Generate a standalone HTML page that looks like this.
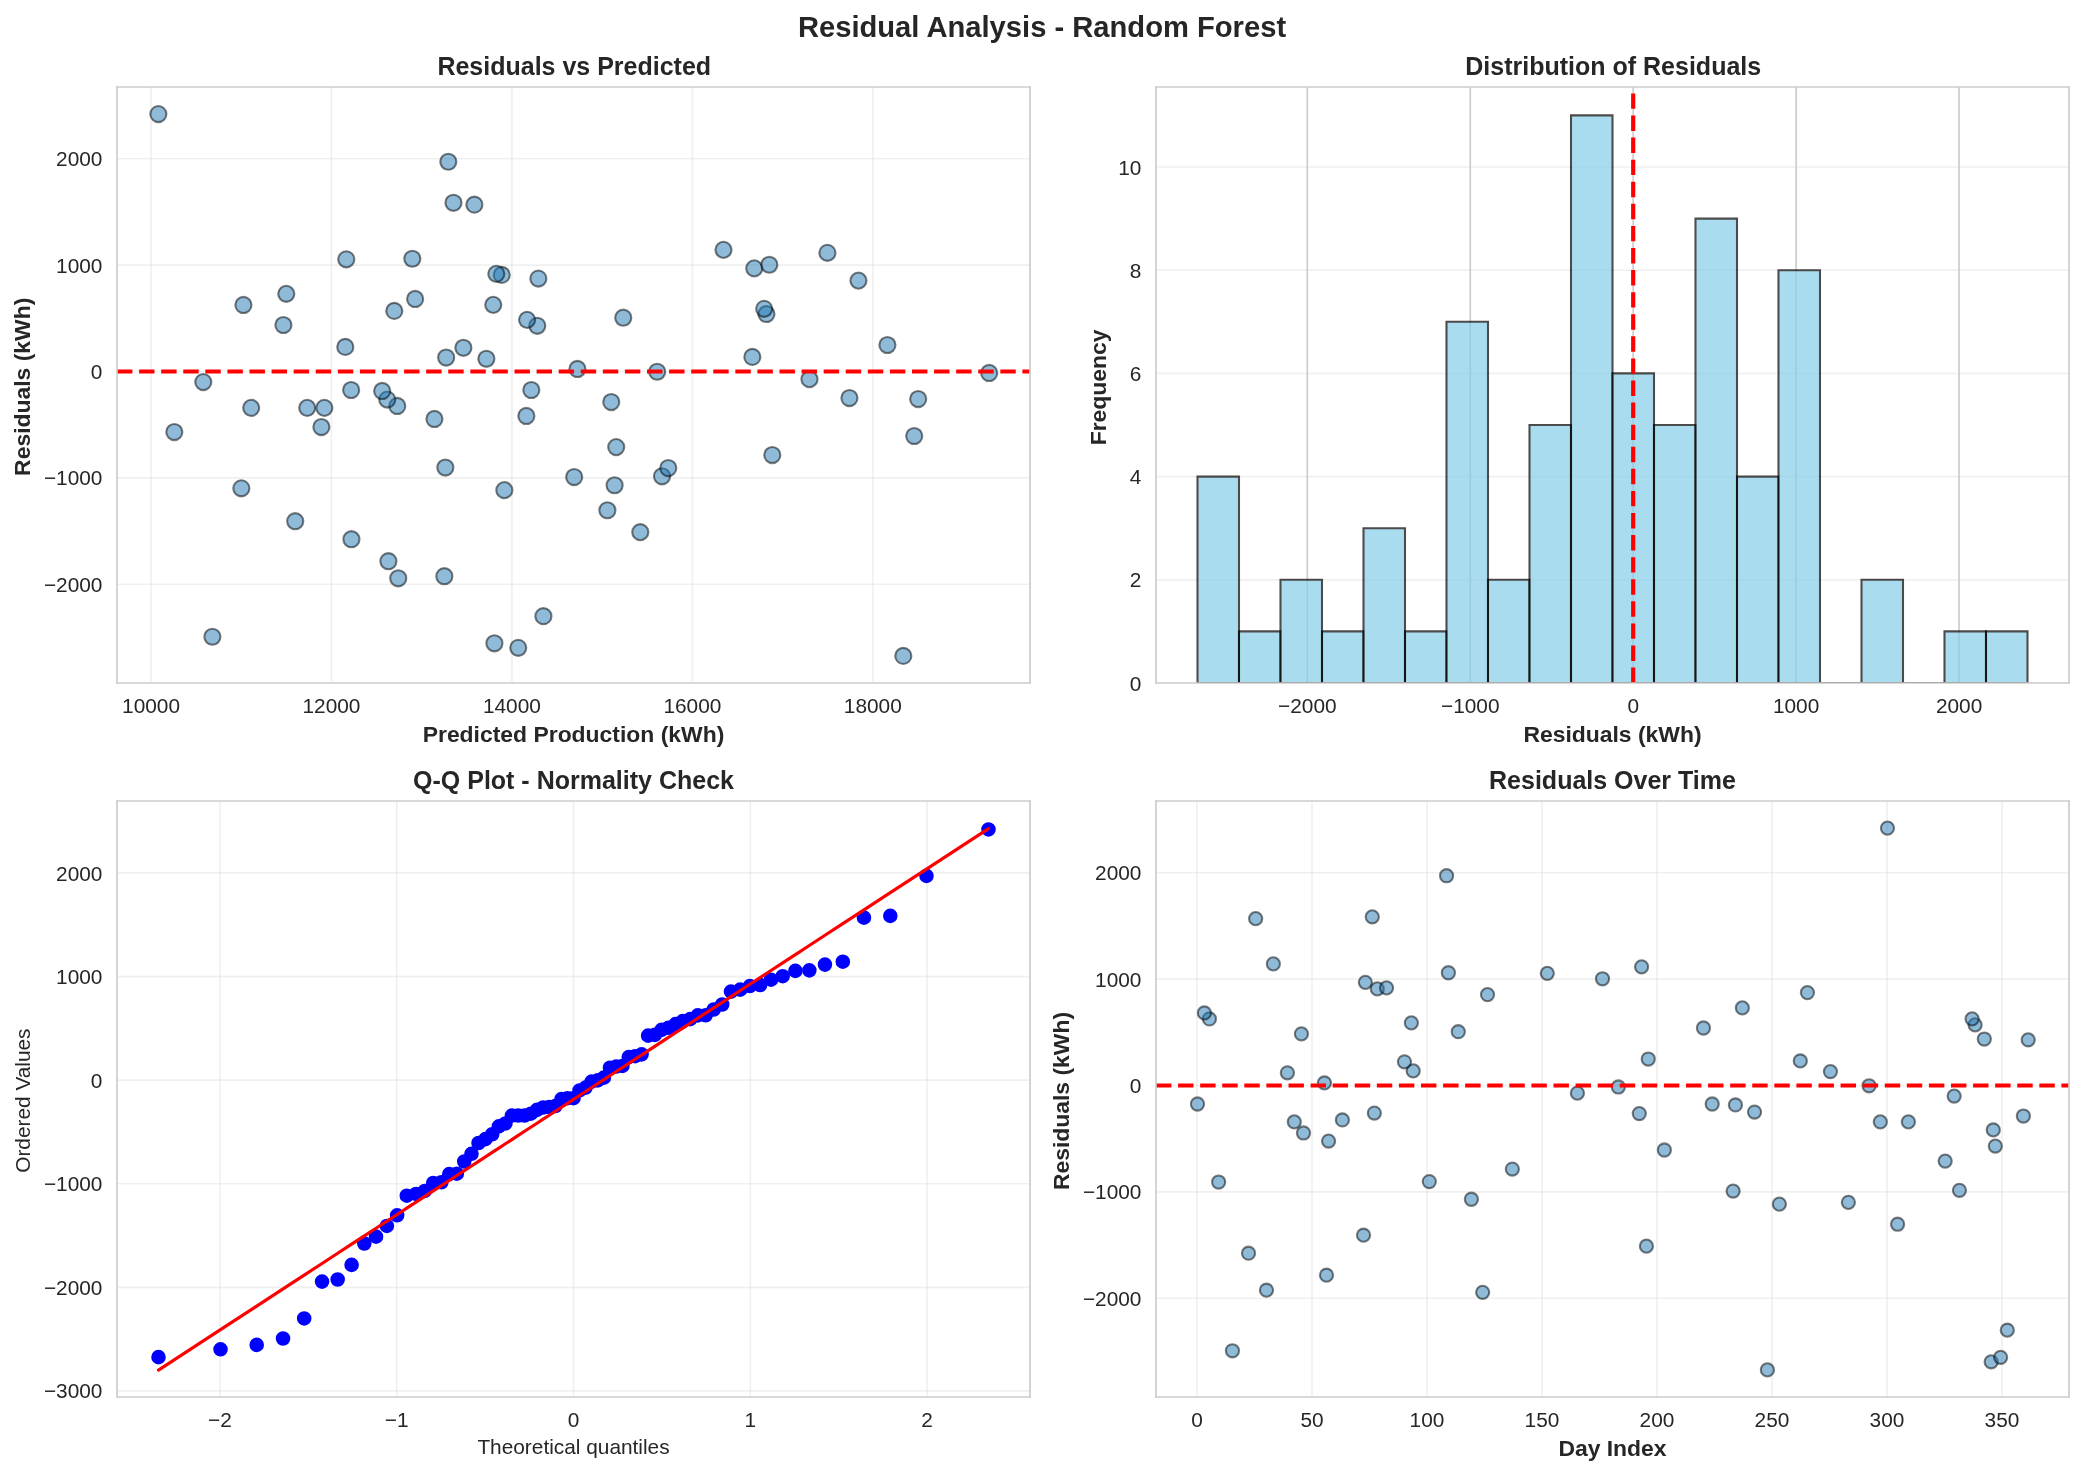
<!DOCTYPE html>
<html><head><meta charset="utf-8"><title>Residual Analysis - Random Forest</title>
<style>html,body{margin:0;padding:0;background:#fff;overflow:hidden;width:2084px;height:1474px}svg{display:block;will-change:transform}text{font-family:"Liberation Sans",sans-serif}</style>
</head><body>
<svg width="2084" height="1474" viewBox="0 0 1000.32 707.52" version="1.1">
<defs>
<style type="text/css">*{stroke-linejoin: round; stroke-linecap: butt}</style>
</defs>
<g id="figure_1">
<g id="patch_1">
<path d="M 0 707.52
L 1000.32 707.52
L 1000.32 0
L 0 0
z
" style="fill: #ffffff"/>
</g>
<g id="axes_1">
<g id="patch_2">
<path d="M 56.16 327.84
L 494.4 327.84
L 494.4 41.76
L 56.16 41.76
z
" style="fill: #ffffff"/>
</g>
<g id="matplotlib.axis_1">
<g id="xtick_1">
<g id="line2d_1">
<path d="M 72.503384 327.84
L 72.503384 41.76
" clip-path="url(#p3004b6a9ac)" style="fill: none; stroke: #cccccc; stroke-opacity: 0.3; stroke-width: 0.8; stroke-linecap: round"/>
</g>
<g id="text_1">
<text style="font-size: 10px; font-family: 'Liberation Sans', sans-serif; text-anchor: middle; fill: #262626" x="72.503384" y="342.086875" transform="rotate(-0 72.503384 342.086875)">10000</text>
</g>
</g>
<g id="xtick_2">
<g id="line2d_2">
<path d="M 159.113791 327.84
L 159.113791 41.76
" clip-path="url(#p3004b6a9ac)" style="fill: none; stroke: #cccccc; stroke-opacity: 0.3; stroke-width: 0.8; stroke-linecap: round"/>
</g>
<g id="text_2">
<text style="font-size: 10px; font-family: 'Liberation Sans', sans-serif; text-anchor: middle; fill: #262626" x="159.113791" y="342.086875" transform="rotate(-0 159.113791 342.086875)">12000</text>
</g>
</g>
<g id="xtick_3">
<g id="line2d_3">
<path d="M 245.724199 327.84
L 245.724199 41.76
" clip-path="url(#p3004b6a9ac)" style="fill: none; stroke: #cccccc; stroke-opacity: 0.3; stroke-width: 0.8; stroke-linecap: round"/>
</g>
<g id="text_3">
<text style="font-size: 10px; font-family: 'Liberation Sans', sans-serif; text-anchor: middle; fill: #262626" x="245.724199" y="342.086875" transform="rotate(-0 245.724199 342.086875)">14000</text>
</g>
</g>
<g id="xtick_4">
<g id="line2d_4">
<path d="M 332.334606 327.84
L 332.334606 41.76
" clip-path="url(#p3004b6a9ac)" style="fill: none; stroke: #cccccc; stroke-opacity: 0.3; stroke-width: 0.8; stroke-linecap: round"/>
</g>
<g id="text_4">
<text style="font-size: 10px; font-family: 'Liberation Sans', sans-serif; text-anchor: middle; fill: #262626" x="332.334606" y="342.086875" transform="rotate(-0 332.334606 342.086875)">16000</text>
</g>
</g>
<g id="xtick_5">
<g id="line2d_5">
<path d="M 418.945013 327.84
L 418.945013 41.76
" clip-path="url(#p3004b6a9ac)" style="fill: none; stroke: #cccccc; stroke-opacity: 0.3; stroke-width: 0.8; stroke-linecap: round"/>
</g>
<g id="text_5">
<text style="font-size: 10px; font-family: 'Liberation Sans', sans-serif; text-anchor: middle; fill: #262626" x="418.945013" y="342.086875" transform="rotate(-0 418.945013 342.086875)">18000</text>
</g>
</g>
<g id="text_6">
<text style="font-weight: 700; font-size: 11px; font-family: 'Liberation Sans', sans-serif; text-anchor: middle; fill: #262626" x="275.28" y="356.133438" transform="rotate(-0 275.28 356.133438)">Predicted Production (kWh)</text>
</g>
</g>
<g id="matplotlib.axis_2">
<g id="ytick_1">
<g id="line2d_6">
<path d="M 56.16 280.425485
L 494.4 280.425485
" clip-path="url(#p3004b6a9ac)" style="fill: none; stroke: #cccccc; stroke-opacity: 0.3; stroke-width: 0.8; stroke-linecap: round"/>
</g>
<g id="text_7">
<text style="font-size: 10px; font-family: 'Liberation Sans', sans-serif; text-anchor: end; fill: #262626" x="49.16" y="284.048922" transform="rotate(-0 49.16 284.048922)">−2000</text>
</g>
</g>
<g id="ytick_2">
<g id="line2d_7">
<path d="M 56.16 229.370768
L 494.4 229.370768
" clip-path="url(#p3004b6a9ac)" style="fill: none; stroke: #cccccc; stroke-opacity: 0.3; stroke-width: 0.8; stroke-linecap: round"/>
</g>
<g id="text_8">
<text style="font-size: 10px; font-family: 'Liberation Sans', sans-serif; text-anchor: end; fill: #262626" x="49.16" y="232.994205" transform="rotate(-0 49.16 232.994205)">−1000</text>
</g>
</g>
<g id="ytick_3">
<g id="line2d_8">
<path d="M 56.16 178.316051
L 494.4 178.316051
" clip-path="url(#p3004b6a9ac)" style="fill: none; stroke: #cccccc; stroke-opacity: 0.3; stroke-width: 0.8; stroke-linecap: round"/>
</g>
<g id="text_9">
<text style="font-size: 10px; font-family: 'Liberation Sans', sans-serif; text-anchor: end; fill: #262626" x="49.16" y="181.939488" transform="rotate(-0 49.16 181.939488)">0</text>
</g>
</g>
<g id="ytick_4">
<g id="line2d_9">
<path d="M 56.16 127.261334
L 494.4 127.261334
" clip-path="url(#p3004b6a9ac)" style="fill: none; stroke: #cccccc; stroke-opacity: 0.3; stroke-width: 0.8; stroke-linecap: round"/>
</g>
<g id="text_10">
<text style="font-size: 10px; font-family: 'Liberation Sans', sans-serif; text-anchor: end; fill: #262626" x="49.16" y="130.884772" transform="rotate(-0 49.16 130.884772)">1000</text>
</g>
</g>
<g id="ytick_5">
<g id="line2d_10">
<path d="M 56.16 76.206617
L 494.4 76.206617
" clip-path="url(#p3004b6a9ac)" style="fill: none; stroke: #cccccc; stroke-opacity: 0.3; stroke-width: 0.8; stroke-linecap: round"/>
</g>
<g id="text_11">
<text style="font-size: 10px; font-family: 'Liberation Sans', sans-serif; text-anchor: end; fill: #262626" x="49.16" y="79.830055" transform="rotate(-0 49.16 79.830055)">2000</text>
</g>
</g>
<g id="text_12">
<g transform="translate(-0.600 0.864)"><text style="font-weight: 700; font-size: 11px; font-family: 'Liberation Sans', sans-serif; text-anchor: middle; fill: #262626" x="14.793125" y="184.8" transform="rotate(-90 14.793125 184.8)">Residuals (kWh)</text></g>
</g>
</g>
<g id="PathCollection_1">
<defs>
<path id="m60a8fec5a6" d="M 0 3.872983
C 1.027127 3.872983 2.012324 3.464901 2.738613 2.738613
C 3.464901 2.012324 3.872983 1.027127 3.872983 0
C 3.872983 -1.027127 3.464901 -2.012324 2.738613 -2.738613
C 2.012324 -3.464901 1.027127 -3.872983 0 -3.872983
C -1.027127 -3.872983 -2.012324 -3.464901 -2.738613 -2.738613
C -3.464901 -2.012324 -3.872983 -1.027127 -3.872983 0
C -3.872983 1.027127 -3.464901 2.012324 -2.738613 2.738613
C -2.012324 3.464901 -1.027127 3.872983 0 3.872983
z
" style="stroke: #000000; stroke-opacity: 0.5"/>
</defs>
<g clip-path="url(#p3004b6a9ac)">
<use href="#m60a8fec5a6" x="433.582172" y="314.836364" style="fill: #1f77b4; fill-opacity: 0.5; stroke: #000000; stroke-opacity: 0.5"/>
<use href="#m60a8fec5a6" x="248.755563" y="310.956205" style="fill: #1f77b4; fill-opacity: 0.5; stroke: #000000; stroke-opacity: 0.5"/>
<use href="#m60a8fec5a6" x="237.322989" y="308.78638" style="fill: #1f77b4; fill-opacity: 0.5; stroke: #000000; stroke-opacity: 0.5"/>
<use href="#m60a8fec5a6" x="101.950922" y="305.646515" style="fill: #1f77b4; fill-opacity: 0.5; stroke: #000000; stroke-opacity: 0.5"/>
<use href="#m60a8fec5a6" x="260.837715" y="295.767427" style="fill: #1f77b4; fill-opacity: 0.5; stroke: #000000; stroke-opacity: 0.5"/>
<use href="#m60a8fec5a6" x="191.159642" y="277.591948" style="fill: #1f77b4; fill-opacity: 0.5; stroke: #000000; stroke-opacity: 0.5"/>
<use href="#m60a8fec5a6" x="213.288601" y="276.570853" style="fill: #1f77b4; fill-opacity: 0.5; stroke: #000000; stroke-opacity: 0.5"/>
<use href="#m60a8fec5a6" x="186.439375" y="269.372138" style="fill: #1f77b4; fill-opacity: 0.5; stroke: #000000; stroke-opacity: 0.5"/>
<use href="#m60a8fec5a6" x="168.684241" y="258.829339" style="fill: #1f77b4; fill-opacity: 0.5; stroke: #000000; stroke-opacity: 0.5"/>
<use href="#m60a8fec5a6" x="307.347503" y="255.434201" style="fill: #1f77b4; fill-opacity: 0.5; stroke: #000000; stroke-opacity: 0.5"/>
<use href="#m60a8fec5a6" x="141.705099" y="250.175565" style="fill: #1f77b4; fill-opacity: 0.5; stroke: #000000; stroke-opacity: 0.5"/>
<use href="#m60a8fec5a6" x="291.541104" y="244.916929" style="fill: #1f77b4; fill-opacity: 0.5; stroke: #000000; stroke-opacity: 0.5"/>
<use href="#m60a8fec5a6" x="242.086561" y="235.267588" style="fill: #1f77b4; fill-opacity: 0.5; stroke: #000000; stroke-opacity: 0.5"/>
<use href="#m60a8fec5a6" x="115.851893" y="234.399657" style="fill: #1f77b4; fill-opacity: 0.5; stroke: #000000; stroke-opacity: 0.5"/>
<use href="#m60a8fec5a6" x="295.00552" y="232.919071" style="fill: #1f77b4; fill-opacity: 0.5; stroke: #000000; stroke-opacity: 0.5"/>
<use href="#m60a8fec5a6" x="275.604789" y="228.987857" style="fill: #1f77b4; fill-opacity: 0.5; stroke: #000000; stroke-opacity: 0.5"/>
<use href="#m60a8fec5a6" x="317.784057" y="228.630474" style="fill: #1f77b4; fill-opacity: 0.5; stroke: #000000; stroke-opacity: 0.5"/>
<use href="#m60a8fec5a6" x="320.772116" y="224.648206" style="fill: #1f77b4; fill-opacity: 0.5; stroke: #000000; stroke-opacity: 0.5"/>
<use href="#m60a8fec5a6" x="213.764958" y="224.41846" style="fill: #1f77b4; fill-opacity: 0.5; stroke: #000000; stroke-opacity: 0.5"/>
<use href="#m60a8fec5a6" x="370.703016" y="218.419531" style="fill: #1f77b4; fill-opacity: 0.5; stroke: #000000; stroke-opacity: 0.5"/>
<use href="#m60a8fec5a6" x="295.785014" y="214.615955" style="fill: #1f77b4; fill-opacity: 0.5; stroke: #000000; stroke-opacity: 0.5"/>
<use href="#m60a8fec5a6" x="438.822102" y="209.280737" style="fill: #1f77b4; fill-opacity: 0.5; stroke: #000000; stroke-opacity: 0.5"/>
<use href="#m60a8fec5a6" x="83.676126" y="207.391712" style="fill: #1f77b4; fill-opacity: 0.5; stroke: #000000; stroke-opacity: 0.5"/>
<use href="#m60a8fec5a6" x="154.263608" y="204.99214" style="fill: #1f77b4; fill-opacity: 0.5; stroke: #000000; stroke-opacity: 0.5"/>
<use href="#m60a8fec5a6" x="208.525029" y="201.111982" style="fill: #1f77b4; fill-opacity: 0.5; stroke: #000000; stroke-opacity: 0.5"/>
<use href="#m60a8fec5a6" x="252.653031" y="199.656923" style="fill: #1f77b4; fill-opacity: 0.5; stroke: #000000; stroke-opacity: 0.5"/>
<use href="#m60a8fec5a6" x="120.57216" y="195.776764" style="fill: #1f77b4; fill-opacity: 0.5; stroke: #000000; stroke-opacity: 0.5"/>
<use href="#m60a8fec5a6" x="147.464691" y="195.776764" style="fill: #1f77b4; fill-opacity: 0.5; stroke: #000000; stroke-opacity: 0.5"/>
<use href="#m60a8fec5a6" x="155.69268" y="195.776764" style="fill: #1f77b4; fill-opacity: 0.5; stroke: #000000; stroke-opacity: 0.5"/>
<use href="#m60a8fec5a6" x="190.683285" y="194.857779" style="fill: #1f77b4; fill-opacity: 0.5; stroke: #000000; stroke-opacity: 0.5"/>
<use href="#m60a8fec5a6" x="293.403228" y="192.968755" style="fill: #1f77b4; fill-opacity: 0.5; stroke: #000000; stroke-opacity: 0.5"/>
<use href="#m60a8fec5a6" x="185.876407" y="191.794496" style="fill: #1f77b4; fill-opacity: 0.5; stroke: #000000; stroke-opacity: 0.5"/>
<use href="#m60a8fec5a6" x="440.727531" y="191.539223" style="fill: #1f77b4; fill-opacity: 0.5; stroke: #000000; stroke-opacity: 0.5"/>
<use href="#m60a8fec5a6" x="407.728965" y="191.054203" style="fill: #1f77b4; fill-opacity: 0.5; stroke: #000000; stroke-opacity: 0.5"/>
<use href="#m60a8fec5a6" x="183.451316" y="187.659064" style="fill: #1f77b4; fill-opacity: 0.5; stroke: #000000; stroke-opacity: 0.5"/>
<use href="#m60a8fec5a6" x="168.554326" y="187.199572" style="fill: #1f77b4; fill-opacity: 0.5; stroke: #000000; stroke-opacity: 0.5"/>
<use href="#m60a8fec5a6" x="255.034817" y="187.199572" style="fill: #1f77b4; fill-opacity: 0.5; stroke: #000000; stroke-opacity: 0.5"/>
<use href="#m60a8fec5a6" x="97.577097" y="183.395995" style="fill: #1f77b4; fill-opacity: 0.5; stroke: #000000; stroke-opacity: 0.5"/>
<use href="#m60a8fec5a6" x="388.54476" y="181.991991" style="fill: #1f77b4; fill-opacity: 0.5; stroke: #000000; stroke-opacity: 0.5"/>
<use href="#m60a8fec5a6" x="474.808726" y="179.030817" style="fill: #1f77b4; fill-opacity: 0.5; stroke: #000000; stroke-opacity: 0.5"/>
<use href="#m60a8fec5a6" x="315.445576" y="178.443688" style="fill: #1f77b4; fill-opacity: 0.5; stroke: #000000; stroke-opacity: 0.5"/>
<use href="#m60a8fec5a6" x="277.163776" y="177.090738" style="fill: #1f77b4; fill-opacity: 0.5; stroke: #000000; stroke-opacity: 0.5"/>
<use href="#m60a8fec5a6" x="233.468826" y="172.215012" style="fill: #1f77b4; fill-opacity: 0.5; stroke: #000000; stroke-opacity: 0.5"/>
<use href="#m60a8fec5a6" x="214.154705" y="171.627883" style="fill: #1f77b4; fill-opacity: 0.5; stroke: #000000; stroke-opacity: 0.5"/>
<use href="#m60a8fec5a6" x="361.132566" y="171.321555" style="fill: #1f77b4; fill-opacity: 0.5; stroke: #000000; stroke-opacity: 0.5"/>
<use href="#m60a8fec5a6" x="222.425999" y="166.930849" style="fill: #1f77b4; fill-opacity: 0.5; stroke: #000000; stroke-opacity: 0.5"/>
<use href="#m60a8fec5a6" x="165.739487" y="166.522411" style="fill: #1f77b4; fill-opacity: 0.5; stroke: #000000; stroke-opacity: 0.5"/>
<use href="#m60a8fec5a6" x="425.960456" y="165.603426" style="fill: #1f77b4; fill-opacity: 0.5; stroke: #000000; stroke-opacity: 0.5"/>
<use href="#m60a8fec5a6" x="257.892961" y="156.38805" style="fill: #1f77b4; fill-opacity: 0.5; stroke: #000000; stroke-opacity: 0.5"/>
<use href="#m60a8fec5a6" x="136.032118" y="156.00514" style="fill: #1f77b4; fill-opacity: 0.5; stroke: #000000; stroke-opacity: 0.5"/>
<use href="#m60a8fec5a6" x="252.999473" y="153.528986" style="fill: #1f77b4; fill-opacity: 0.5; stroke: #000000; stroke-opacity: 0.5"/>
<use href="#m60a8fec5a6" x="299.16282" y="152.507892" style="fill: #1f77b4; fill-opacity: 0.5; stroke: #000000; stroke-opacity: 0.5"/>
<use href="#m60a8fec5a6" x="367.888178" y="150.720977" style="fill: #1f77b4; fill-opacity: 0.5; stroke: #000000; stroke-opacity: 0.5"/>
<use href="#m60a8fec5a6" x="189.254213" y="149.24039" style="fill: #1f77b4; fill-opacity: 0.5; stroke: #000000; stroke-opacity: 0.5"/>
<use href="#m60a8fec5a6" x="366.805548" y="148.244823" style="fill: #1f77b4; fill-opacity: 0.5; stroke: #000000; stroke-opacity: 0.5"/>
<use href="#m60a8fec5a6" x="116.847912" y="146.381326" style="fill: #1f77b4; fill-opacity: 0.5; stroke: #000000; stroke-opacity: 0.5"/>
<use href="#m60a8fec5a6" x="236.760021" y="146.330271" style="fill: #1f77b4; fill-opacity: 0.5; stroke: #000000; stroke-opacity: 0.5"/>
<use href="#m60a8fec5a6" x="199.257715" y="143.496734" style="fill: #1f77b4; fill-opacity: 0.5; stroke: #000000; stroke-opacity: 0.5"/>
<use href="#m60a8fec5a6" x="137.417884" y="141.046108" style="fill: #1f77b4; fill-opacity: 0.5; stroke: #000000; stroke-opacity: 0.5"/>
<use href="#m60a8fec5a6" x="412.059486" y="134.689795" style="fill: #1f77b4; fill-opacity: 0.5; stroke: #000000; stroke-opacity: 0.5"/>
<use href="#m60a8fec5a6" x="258.412623" y="133.719756" style="fill: #1f77b4; fill-opacity: 0.5; stroke: #000000; stroke-opacity: 0.5"/>
<use href="#m60a8fec5a6" x="240.83071" y="131.958368" style="fill: #1f77b4; fill-opacity: 0.5; stroke: #000000; stroke-opacity: 0.5"/>
<use href="#m60a8fec5a6" x="238.232398" y="131.447821" style="fill: #1f77b4; fill-opacity: 0.5; stroke: #000000; stroke-opacity: 0.5"/>
<use href="#m60a8fec5a6" x="362.041976" y="128.818503" style="fill: #1f77b4; fill-opacity: 0.5; stroke: #000000; stroke-opacity: 0.5"/>
<use href="#m60a8fec5a6" x="369.273945" y="127.082643" style="fill: #1f77b4; fill-opacity: 0.5; stroke: #000000; stroke-opacity: 0.5"/>
<use href="#m60a8fec5a6" x="166.215845" y="124.478852" style="fill: #1f77b4; fill-opacity: 0.5; stroke: #000000; stroke-opacity: 0.5"/>
<use href="#m60a8fec5a6" x="197.915254" y="124.198051" style="fill: #1f77b4; fill-opacity: 0.5; stroke: #000000; stroke-opacity: 0.5"/>
<use href="#m60a8fec5a6" x="397.162496" y="121.364514" style="fill: #1f77b4; fill-opacity: 0.5; stroke: #000000; stroke-opacity: 0.5"/>
<use href="#m60a8fec5a6" x="347.274901" y="119.934982" style="fill: #1f77b4; fill-opacity: 0.5; stroke: #000000; stroke-opacity: 0.5"/>
<use href="#m60a8fec5a6" x="227.709234" y="98.236728" style="fill: #1f77b4; fill-opacity: 0.5; stroke: #000000; stroke-opacity: 0.5"/>
<use href="#m60a8fec5a6" x="217.662427" y="97.34327" style="fill: #1f77b4; fill-opacity: 0.5; stroke: #000000; stroke-opacity: 0.5"/>
<use href="#m60a8fec5a6" x="215.19403" y="77.636149" style="fill: #1f77b4; fill-opacity: 0.5; stroke: #000000; stroke-opacity: 0.5"/>
<use href="#m60a8fec5a6" x="76.011105" y="54.763636" style="fill: #1f77b4; fill-opacity: 0.5; stroke: #000000; stroke-opacity: 0.5"/>
</g>
</g>
<g id="line2d_11">
<path d="M 56.16 178.316051
L 494.4 178.316051
" clip-path="url(#p3004b6a9ac)" style="fill: none; stroke-dasharray: 7.4,3.2; stroke-dashoffset: 0; stroke: #ff0000; stroke-width: 2"/>
</g>
<g id="patch_3">
<path d="M 56.16 327.84
L 56.16 41.76
" style="fill: none; stroke: #cccccc; stroke-width: 0.8; stroke-linejoin: miter; stroke-linecap: square"/>
</g>
<g id="patch_4">
<path d="M 494.4 327.84
L 494.4 41.76
" style="fill: none; stroke: #cccccc; stroke-width: 0.8; stroke-linejoin: miter; stroke-linecap: square"/>
</g>
<g id="patch_5">
<path d="M 56.16 327.84
L 494.4 327.84
" style="fill: none; stroke: #cccccc; stroke-width: 0.8; stroke-linejoin: miter; stroke-linecap: square"/>
</g>
<g id="patch_6">
<path d="M 56.16 41.76
L 494.4 41.76
" style="fill: none; stroke: #cccccc; stroke-width: 0.8; stroke-linejoin: miter; stroke-linecap: square"/>
</g>
<g id="text_13">
<g transform="translate(0.360 0.480)"><text style="font-weight: 700; font-size: 12px; font-family: 'Liberation Sans', sans-serif; text-anchor: middle; fill: #262626" x="275.28" y="35.76" transform="rotate(-0 275.28 35.76)">Residuals vs Predicted</text></g>
</g>
</g>
<g id="axes_2">
<g id="patch_7">
<path d="M 554.88 327.84
L 993.12 327.84
L 993.12 41.76
L 554.88 41.76
z
" style="fill: #ffffff"/>
</g>
<g id="matplotlib.axis_3">
<g id="xtick_6">
<g id="line2d_12">
<path d="M 627.51331 327.84
L 627.51331 41.76
" clip-path="url(#p6573715b13)" style="fill: none; stroke: #cccccc; stroke-width: 0.8; stroke-linecap: round"/>
</g>
<g id="text_14">
<text style="font-size: 10px; font-family: 'Liberation Sans', sans-serif; text-anchor: middle; fill: #262626" x="627.51331" y="342.086875" transform="rotate(-0 627.51331 342.086875)">−2000</text>
</g>
</g>
<g id="xtick_7">
<g id="line2d_13">
<path d="M 705.722968 327.84
L 705.722968 41.76
" clip-path="url(#p6573715b13)" style="fill: none; stroke: #cccccc; stroke-width: 0.8; stroke-linecap: round"/>
</g>
<g id="text_15">
<text style="font-size: 10px; font-family: 'Liberation Sans', sans-serif; text-anchor: middle; fill: #262626" x="705.722968" y="342.086875" transform="rotate(-0 705.722968 342.086875)">−1000</text>
</g>
</g>
<g id="xtick_8">
<g id="line2d_14">
<path d="M 783.932627 327.84
L 783.932627 41.76
" clip-path="url(#p6573715b13)" style="fill: none; stroke: #cccccc; stroke-width: 0.8; stroke-linecap: round"/>
</g>
<g id="text_16">
<text style="font-size: 10px; font-family: 'Liberation Sans', sans-serif; text-anchor: middle; fill: #262626" x="783.932627" y="342.086875" transform="rotate(-0 783.932627 342.086875)">0</text>
</g>
</g>
<g id="xtick_9">
<g id="line2d_15">
<path d="M 862.142285 327.84
L 862.142285 41.76
" clip-path="url(#p6573715b13)" style="fill: none; stroke: #cccccc; stroke-width: 0.8; stroke-linecap: round"/>
</g>
<g id="text_17">
<text style="font-size: 10px; font-family: 'Liberation Sans', sans-serif; text-anchor: middle; fill: #262626" x="862.142285" y="342.086875" transform="rotate(-0 862.142285 342.086875)">1000</text>
</g>
</g>
<g id="xtick_10">
<g id="line2d_16">
<path d="M 940.351943 327.84
L 940.351943 41.76
" clip-path="url(#p6573715b13)" style="fill: none; stroke: #cccccc; stroke-width: 0.8; stroke-linecap: round"/>
</g>
<g id="text_18">
<text style="font-size: 10px; font-family: 'Liberation Sans', sans-serif; text-anchor: middle; fill: #262626" x="940.351943" y="342.086875" transform="rotate(-0 940.351943 342.086875)">2000</text>
</g>
</g>
<g id="text_19">
<text style="font-weight: 700; font-size: 11px; font-family: 'Liberation Sans', sans-serif; text-anchor: middle; fill: #262626" x="774" y="356.133438" transform="rotate(-0 774 356.133438)">Residuals (kWh)</text>
</g>
</g>
<g id="matplotlib.axis_4">
<g id="ytick_6">
<g id="line2d_17">
<path d="M 554.88 327.84
L 993.12 327.84
" clip-path="url(#p6573715b13)" style="fill: none; stroke: #cccccc; stroke-opacity: 0.3; stroke-width: 0.8; stroke-linecap: round"/>
</g>
<g id="text_20">
<text style="font-size: 10px; font-family: 'Liberation Sans', sans-serif; text-anchor: end; fill: #262626" x="547.88" y="331.463438" transform="rotate(-0 547.88 331.463438)">0</text>
</g>
</g>
<g id="ytick_7">
<g id="line2d_18">
<path d="M 554.88 278.302338
L 993.12 278.302338
" clip-path="url(#p6573715b13)" style="fill: none; stroke: #cccccc; stroke-opacity: 0.3; stroke-width: 0.8; stroke-linecap: round"/>
</g>
<g id="text_21">
<text style="font-size: 10px; font-family: 'Liberation Sans', sans-serif; text-anchor: end; fill: #262626" x="547.88" y="281.925775" transform="rotate(-0 547.88 281.925775)">2</text>
</g>
</g>
<g id="ytick_8">
<g id="line2d_19">
<path d="M 554.88 228.764675
L 993.12 228.764675
" clip-path="url(#p6573715b13)" style="fill: none; stroke: #cccccc; stroke-opacity: 0.3; stroke-width: 0.8; stroke-linecap: round"/>
</g>
<g id="text_22">
<text style="font-size: 10px; font-family: 'Liberation Sans', sans-serif; text-anchor: end; fill: #262626" x="547.88" y="232.388113" transform="rotate(-0 547.88 232.388113)">4</text>
</g>
</g>
<g id="ytick_9">
<g id="line2d_20">
<path d="M 554.88 179.227013
L 993.12 179.227013
" clip-path="url(#p6573715b13)" style="fill: none; stroke: #cccccc; stroke-opacity: 0.3; stroke-width: 0.8; stroke-linecap: round"/>
</g>
<g id="text_23">
<text style="font-size: 10px; font-family: 'Liberation Sans', sans-serif; text-anchor: end; fill: #262626" x="547.88" y="182.85045" transform="rotate(-0 547.88 182.85045)">6</text>
</g>
</g>
<g id="ytick_10">
<g id="line2d_21">
<path d="M 554.88 129.689351
L 993.12 129.689351
" clip-path="url(#p6573715b13)" style="fill: none; stroke: #cccccc; stroke-opacity: 0.3; stroke-width: 0.8; stroke-linecap: round"/>
</g>
<g id="text_24">
<text style="font-size: 10px; font-family: 'Liberation Sans', sans-serif; text-anchor: end; fill: #262626" x="547.88" y="133.312788" transform="rotate(-0 547.88 133.312788)">8</text>
</g>
</g>
<g id="ytick_11">
<g id="line2d_22">
<path d="M 554.88 80.151688
L 993.12 80.151688
" clip-path="url(#p6573715b13)" style="fill: none; stroke: #cccccc; stroke-opacity: 0.3; stroke-width: 0.8; stroke-linecap: round"/>
</g>
<g id="text_25">
<text style="font-size: 10px; font-family: 'Liberation Sans', sans-serif; text-anchor: end; fill: #262626" x="547.88" y="83.775126" transform="rotate(-0 547.88 83.775126)">10</text>
</g>
</g>
<g id="text_26">
<g transform="translate(0.432 1.152)"><text style="font-weight: 700; font-size: 11px; font-family: 'Liberation Sans', sans-serif; text-anchor: middle; fill: #262626" x="530.475625" y="184.8" transform="rotate(-90 530.475625 184.8)">Frequency</text></g>
</g>
</g>
<g id="patch_8">
<path d="M 574.8 327.84
L 594.72 327.84
L 594.72 228.764675
L 574.8 228.764675
z
" clip-path="url(#p6573715b13)" style="fill: #87ceeb; opacity: 0.7; stroke: #000000; stroke-linejoin: miter"/>
</g>
<g id="patch_9">
<path d="M 594.72 327.84
L 614.64 327.84
L 614.64 303.071169
L 594.72 303.071169
z
" clip-path="url(#p6573715b13)" style="fill: #87ceeb; opacity: 0.7; stroke: #000000; stroke-linejoin: miter"/>
</g>
<g id="patch_10">
<path d="M 614.64 327.84
L 634.56 327.84
L 634.56 278.302338
L 614.64 278.302338
z
" clip-path="url(#p6573715b13)" style="fill: #87ceeb; opacity: 0.7; stroke: #000000; stroke-linejoin: miter"/>
</g>
<g id="patch_11">
<path d="M 634.56 327.84
L 654.48 327.84
L 654.48 303.071169
L 634.56 303.071169
z
" clip-path="url(#p6573715b13)" style="fill: #87ceeb; opacity: 0.7; stroke: #000000; stroke-linejoin: miter"/>
</g>
<g id="patch_12">
<path d="M 654.48 327.84
L 674.4 327.84
L 674.4 253.533506
L 654.48 253.533506
z
" clip-path="url(#p6573715b13)" style="fill: #87ceeb; opacity: 0.7; stroke: #000000; stroke-linejoin: miter"/>
</g>
<g id="patch_13">
<path d="M 674.4 327.84
L 694.32 327.84
L 694.32 303.071169
L 674.4 303.071169
z
" clip-path="url(#p6573715b13)" style="fill: #87ceeb; opacity: 0.7; stroke: #000000; stroke-linejoin: miter"/>
</g>
<g id="patch_14">
<path d="M 694.32 327.84
L 714.24 327.84
L 714.24 154.458182
L 694.32 154.458182
z
" clip-path="url(#p6573715b13)" style="fill: #87ceeb; opacity: 0.7; stroke: #000000; stroke-linejoin: miter"/>
</g>
<g id="patch_15">
<path d="M 714.24 327.84
L 734.16 327.84
L 734.16 278.302338
L 714.24 278.302338
z
" clip-path="url(#p6573715b13)" style="fill: #87ceeb; opacity: 0.7; stroke: #000000; stroke-linejoin: miter"/>
</g>
<g id="patch_16">
<path d="M 734.16 327.84
L 754.08 327.84
L 754.08 203.995844
L 734.16 203.995844
z
" clip-path="url(#p6573715b13)" style="fill: #87ceeb; opacity: 0.7; stroke: #000000; stroke-linejoin: miter"/>
</g>
<g id="patch_17">
<path d="M 754.08 327.84
L 774 327.84
L 774 55.382857
L 754.08 55.382857
z
" clip-path="url(#p6573715b13)" style="fill: #87ceeb; opacity: 0.7; stroke: #000000; stroke-linejoin: miter"/>
</g>
<g id="patch_18">
<path d="M 774 327.84
L 793.92 327.84
L 793.92 179.227013
L 774 179.227013
z
" clip-path="url(#p6573715b13)" style="fill: #87ceeb; opacity: 0.7; stroke: #000000; stroke-linejoin: miter"/>
</g>
<g id="patch_19">
<path d="M 793.92 327.84
L 813.84 327.84
L 813.84 203.995844
L 793.92 203.995844
z
" clip-path="url(#p6573715b13)" style="fill: #87ceeb; opacity: 0.7; stroke: #000000; stroke-linejoin: miter"/>
</g>
<g id="patch_20">
<path d="M 813.84 327.84
L 833.76 327.84
L 833.76 104.920519
L 813.84 104.920519
z
" clip-path="url(#p6573715b13)" style="fill: #87ceeb; opacity: 0.7; stroke: #000000; stroke-linejoin: miter"/>
</g>
<g id="patch_21">
<path d="M 833.76 327.84
L 853.68 327.84
L 853.68 228.764675
L 833.76 228.764675
z
" clip-path="url(#p6573715b13)" style="fill: #87ceeb; opacity: 0.7; stroke: #000000; stroke-linejoin: miter"/>
</g>
<g id="patch_22">
<path d="M 853.68 327.84
L 873.6 327.84
L 873.6 129.689351
L 853.68 129.689351
z
" clip-path="url(#p6573715b13)" style="fill: #87ceeb; opacity: 0.7; stroke: #000000; stroke-linejoin: miter"/>
</g>
<g id="patch_23">
<path d="M 873.6 327.84
L 893.52 327.84
L 893.52 327.84
L 873.6 327.84
z
" clip-path="url(#p6573715b13)" style="fill: #87ceeb; opacity: 0.7; stroke: #000000; stroke-linejoin: miter"/>
</g>
<g id="patch_24">
<path d="M 893.52 327.84
L 913.44 327.84
L 913.44 278.302338
L 893.52 278.302338
z
" clip-path="url(#p6573715b13)" style="fill: #87ceeb; opacity: 0.7; stroke: #000000; stroke-linejoin: miter"/>
</g>
<g id="patch_25">
<path d="M 913.44 327.84
L 933.36 327.84
L 933.36 327.84
L 913.44 327.84
z
" clip-path="url(#p6573715b13)" style="fill: #87ceeb; opacity: 0.7; stroke: #000000; stroke-linejoin: miter"/>
</g>
<g id="patch_26">
<path d="M 933.36 327.84
L 953.28 327.84
L 953.28 303.071169
L 933.36 303.071169
z
" clip-path="url(#p6573715b13)" style="fill: #87ceeb; opacity: 0.7; stroke: #000000; stroke-linejoin: miter"/>
</g>
<g id="patch_27">
<path d="M 953.28 327.84
L 973.2 327.84
L 973.2 303.071169
L 953.28 303.071169
z
" clip-path="url(#p6573715b13)" style="fill: #87ceeb; opacity: 0.7; stroke: #000000; stroke-linejoin: miter"/>
</g>
<g id="line2d_23">
<path d="M 783.932627 327.84
L 783.932627 41.76
" clip-path="url(#p6573715b13)" style="fill: none; stroke-dasharray: 7.4,3.2; stroke-dashoffset: 0; stroke: #ff0000; stroke-width: 2"/>
</g>
<g id="patch_28">
<path d="M 554.88 327.84
L 554.88 41.76
" style="fill: none; stroke: #cccccc; stroke-width: 0.8; stroke-linejoin: miter; stroke-linecap: square"/>
</g>
<g id="patch_29">
<path d="M 993.12 327.84
L 993.12 41.76
" style="fill: none; stroke: #cccccc; stroke-width: 0.8; stroke-linejoin: miter; stroke-linecap: square"/>
</g>
<g id="patch_30">
<path d="M 554.88 327.84
L 993.12 327.84
" style="fill: none; stroke: #cccccc; stroke-width: 0.8; stroke-linejoin: miter; stroke-linecap: square"/>
</g>
<g id="patch_31">
<path d="M 554.88 41.76
L 993.12 41.76
" style="fill: none; stroke: #cccccc; stroke-width: 0.8; stroke-linejoin: miter; stroke-linecap: square"/>
</g>
<g id="text_27">
<g transform="translate(0.360 0.480)"><text style="font-weight: 700; font-size: 12px; font-family: 'Liberation Sans', sans-serif; text-anchor: middle; fill: #262626" x="774" y="35.76" transform="rotate(-0 774 35.76)">Distribution of Residuals</text></g>
</g>
</g>
<g id="axes_3">
<g id="patch_32">
<path d="M 56.16 670.56
L 494.4 670.56
L 494.4 384.48
L 56.16 384.48
z
" style="fill: #ffffff"/>
</g>
<g id="matplotlib.axis_5">
<g id="xtick_11">
<g id="line2d_24">
<path d="M 105.566703 670.56
L 105.566703 384.48
" clip-path="url(#p3e3670ca8b)" style="fill: none; stroke: #cccccc; stroke-opacity: 0.3; stroke-width: 0.8; stroke-linecap: round"/>
</g>
<g id="text_28">
<text style="font-size: 10px; font-family: 'Liberation Sans', sans-serif; text-anchor: middle; fill: #262626" x="105.566703" y="684.806875" transform="rotate(-0 105.566703 684.806875)">−2</text>
</g>
</g>
<g id="xtick_12">
<g id="line2d_25">
<path d="M 190.423352 670.56
L 190.423352 384.48
" clip-path="url(#p3e3670ca8b)" style="fill: none; stroke: #cccccc; stroke-opacity: 0.3; stroke-width: 0.8; stroke-linecap: round"/>
</g>
<g id="text_29">
<text style="font-size: 10px; font-family: 'Liberation Sans', sans-serif; text-anchor: middle; fill: #262626" x="190.423352" y="684.806875" transform="rotate(-0 190.423352 684.806875)">−1</text>
</g>
</g>
<g id="xtick_13">
<g id="line2d_26">
<path d="M 275.28 670.56
L 275.28 384.48
" clip-path="url(#p3e3670ca8b)" style="fill: none; stroke: #cccccc; stroke-opacity: 0.3; stroke-width: 0.8; stroke-linecap: round"/>
</g>
<g id="text_30">
<text style="font-size: 10px; font-family: 'Liberation Sans', sans-serif; text-anchor: middle; fill: #262626" x="275.28" y="684.806875" transform="rotate(-0 275.28 684.806875)">0</text>
</g>
</g>
<g id="xtick_14">
<g id="line2d_27">
<path d="M 360.136648 670.56
L 360.136648 384.48
" clip-path="url(#p3e3670ca8b)" style="fill: none; stroke: #cccccc; stroke-opacity: 0.3; stroke-width: 0.8; stroke-linecap: round"/>
</g>
<g id="text_31">
<text style="font-size: 10px; font-family: 'Liberation Sans', sans-serif; text-anchor: middle; fill: #262626" x="360.136648" y="684.806875" transform="rotate(-0 360.136648 684.806875)">1</text>
</g>
</g>
<g id="xtick_15">
<g id="line2d_28">
<path d="M 444.993297 670.56
L 444.993297 384.48
" clip-path="url(#p3e3670ca8b)" style="fill: none; stroke: #cccccc; stroke-opacity: 0.3; stroke-width: 0.8; stroke-linecap: round"/>
</g>
<g id="text_32">
<text style="font-size: 10px; font-family: 'Liberation Sans', sans-serif; text-anchor: middle; fill: #262626" x="444.993297" y="684.806875" transform="rotate(-0 444.993297 684.806875)">2</text>
</g>
</g>
<g id="text_33">
<text style="font-size: 10px; font-family: 'Liberation Sans', sans-serif; text-anchor: middle; fill: #262626" x="275.28" y="698.12875" transform="rotate(-0 275.28 698.12875)">Theoretical quantiles</text>
</g>
</g>
<g id="matplotlib.axis_6">
<g id="ytick_12">
<g id="line2d_29">
<path d="M 56.16 667.646093
L 494.4 667.646093
" clip-path="url(#p3e3670ca8b)" style="fill: none; stroke: #cccccc; stroke-opacity: 0.3; stroke-width: 0.8; stroke-linecap: round"/>
</g>
<g id="text_34">
<text style="font-size: 10px; font-family: 'Liberation Sans', sans-serif; text-anchor: end; fill: #262626" x="49.16" y="671.269531" transform="rotate(-0 49.16 671.269531)">−3000</text>
</g>
</g>
<g id="ytick_13">
<g id="line2d_30">
<path d="M 56.16 617.920723
L 494.4 617.920723
" clip-path="url(#p3e3670ca8b)" style="fill: none; stroke: #cccccc; stroke-opacity: 0.3; stroke-width: 0.8; stroke-linecap: round"/>
</g>
<g id="text_35">
<text style="font-size: 10px; font-family: 'Liberation Sans', sans-serif; text-anchor: end; fill: #262626" x="49.16" y="621.544161" transform="rotate(-0 49.16 621.544161)">−2000</text>
</g>
</g>
<g id="ytick_14">
<g id="line2d_31">
<path d="M 56.16 568.195353
L 494.4 568.195353
" clip-path="url(#p3e3670ca8b)" style="fill: none; stroke: #cccccc; stroke-opacity: 0.3; stroke-width: 0.8; stroke-linecap: round"/>
</g>
<g id="text_36">
<text style="font-size: 10px; font-family: 'Liberation Sans', sans-serif; text-anchor: end; fill: #262626" x="49.16" y="571.81879" transform="rotate(-0 49.16 571.81879)">−1000</text>
</g>
</g>
<g id="ytick_15">
<g id="line2d_32">
<path d="M 56.16 518.469983
L 494.4 518.469983
" clip-path="url(#p3e3670ca8b)" style="fill: none; stroke: #cccccc; stroke-opacity: 0.3; stroke-width: 0.8; stroke-linecap: round"/>
</g>
<g id="text_37">
<text style="font-size: 10px; font-family: 'Liberation Sans', sans-serif; text-anchor: end; fill: #262626" x="49.16" y="522.09342" transform="rotate(-0 49.16 522.09342)">0</text>
</g>
</g>
<g id="ytick_16">
<g id="line2d_33">
<path d="M 56.16 468.744612
L 494.4 468.744612
" clip-path="url(#p3e3670ca8b)" style="fill: none; stroke: #cccccc; stroke-opacity: 0.3; stroke-width: 0.8; stroke-linecap: round"/>
</g>
<g id="text_38">
<text style="font-size: 10px; font-family: 'Liberation Sans', sans-serif; text-anchor: end; fill: #262626" x="49.16" y="472.36805" transform="rotate(-0 49.16 472.36805)">1000</text>
</g>
</g>
<g id="ytick_17">
<g id="line2d_34">
<path d="M 56.16 419.019242
L 494.4 419.019242
" clip-path="url(#p3e3670ca8b)" style="fill: none; stroke: #cccccc; stroke-opacity: 0.3; stroke-width: 0.8; stroke-linecap: round"/>
</g>
<g id="text_39">
<text style="font-size: 10px; font-family: 'Liberation Sans', sans-serif; text-anchor: end; fill: #262626" x="49.16" y="422.64268" transform="rotate(-0 49.16 422.64268)">2000</text>
</g>
</g>
<g id="text_40">
<g transform="translate(-0.384 0.792)"><text style="font-size: 10px; font-family: 'Liberation Sans', sans-serif; text-anchor: middle; fill: #262626" x="15.000625" y="527.52" transform="rotate(-90 15.000625 527.52)">Ordered Values</text></g>
</g>
</g>
<g id="line2d_35">
<defs>
<path id="m07ba7ed919" d="M 0 3
C 0.795609 3 1.55874 2.683901 2.12132 2.12132
C 2.683901 1.55874 3 0.795609 3 0
C 3 -0.795609 2.683901 -1.55874 2.12132 -2.12132
C 1.55874 -2.683901 0.795609 -3 0 -3
C -0.795609 -3 -1.55874 -2.683901 -2.12132 -2.12132
C -2.683901 -1.55874 -3 -0.795609 -3 0
C -3 0.795609 -2.683901 1.55874 -2.12132 2.12132
C -1.55874 2.683901 -0.795609 3 0 3
z
" style="stroke: #0000ff"/>
</defs>
<g clip-path="url(#p3e3670ca8b)">
<use href="#m07ba7ed919" x="76.08" y="651.435623" style="fill: #0000ff; stroke: #0000ff"/>
<use href="#m07ba7ed919" x="105.853581" y="647.656494" style="fill: #0000ff; stroke: #0000ff"/>
<use href="#m07ba7ed919" x="123.213998" y="645.543166" style="fill: #0000ff; stroke: #0000ff"/>
<use href="#m07ba7ed919" x="135.862797" y="642.485056" style="fill: #0000ff; stroke: #0000ff"/>
<use href="#m07ba7ed919" x="146.006247" y="632.863197" style="fill: #0000ff; stroke: #0000ff"/>
<use href="#m07ba7ed919" x="154.579967" y="615.160965" style="fill: #0000ff; stroke: #0000ff"/>
<use href="#m07ba7ed919" x="162.07281" y="614.166458" style="fill: #0000ff; stroke: #0000ff"/>
<use href="#m07ba7ed919" x="168.774043" y="607.15518" style="fill: #0000ff; stroke: #0000ff"/>
<use href="#m07ba7ed919" x="174.869765" y="596.886891" style="fill: #0000ff; stroke: #0000ff"/>
<use href="#m07ba7ed919" x="180.48716" y="593.580154" style="fill: #0000ff; stroke: #0000ff"/>
<use href="#m07ba7ed919" x="185.717232" y="588.458441" style="fill: #0000ff; stroke: #0000ff"/>
<use href="#m07ba7ed919" x="190.627489" y="583.336728" style="fill: #0000ff; stroke: #0000ff"/>
<use href="#m07ba7ed919" x="195.269498" y="573.938633" style="fill: #0000ff; stroke: #0000ff"/>
<use href="#m07ba7ed919" x="199.683617" y="573.093302" style="fill: #0000ff; stroke: #0000ff"/>
<use href="#m07ba7ed919" x="203.902084" y="571.651266" style="fill: #0000ff; stroke: #0000ff"/>
<use href="#m07ba7ed919" x="207.951111" y="567.822413" style="fill: #0000ff; stroke: #0000ff"/>
<use href="#m07ba7ed919" x="211.85234" y="567.474335" style="fill: #0000ff; stroke: #0000ff"/>
<use href="#m07ba7ed919" x="215.623883" y="563.595756" style="fill: #0000ff; stroke: #0000ff"/>
<use href="#m07ba7ed919" x="219.281088" y="563.371992" style="fill: #0000ff; stroke: #0000ff"/>
<use href="#m07ba7ed919" x="222.8371" y="557.529261" style="fill: #0000ff; stroke: #0000ff"/>
<use href="#m07ba7ed919" x="226.3033" y="553.824721" style="fill: #0000ff; stroke: #0000ff"/>
<use href="#m07ba7ed919" x="229.689627" y="548.62842" style="fill: #0000ff; stroke: #0000ff"/>
<use href="#m07ba7ed919" x="233.004844" y="546.788581" style="fill: #0000ff; stroke: #0000ff"/>
<use href="#m07ba7ed919" x="236.256742" y="544.451489" style="fill: #0000ff; stroke: #0000ff"/>
<use href="#m07ba7ed919" x="239.452301" y="540.67236" style="fill: #0000ff; stroke: #0000ff"/>
<use href="#m07ba7ed919" x="242.597829" y="539.255187" style="fill: #0000ff; stroke: #0000ff"/>
<use href="#m07ba7ed919" x="245.699065" y="535.476059" style="fill: #0000ff; stroke: #0000ff"/>
<use href="#m07ba7ed919" x="248.761274" y="535.476059" style="fill: #0000ff; stroke: #0000ff"/>
<use href="#m07ba7ed919" x="251.789323" y="535.476059" style="fill: #0000ff; stroke: #0000ff"/>
<use href="#m07ba7ed919" x="254.787743" y="534.581003" style="fill: #0000ff; stroke: #0000ff"/>
<use href="#m07ba7ed919" x="257.760785" y="532.741164" style="fill: #0000ff; stroke: #0000ff"/>
<use href="#m07ba7ed919" x="260.71247" y="531.59748" style="fill: #0000ff; stroke: #0000ff"/>
<use href="#m07ba7ed919" x="263.646629" y="531.348854" style="fill: #0000ff; stroke: #0000ff"/>
<use href="#m07ba7ed919" x="266.566939" y="530.876462" style="fill: #0000ff; stroke: #0000ff"/>
<use href="#m07ba7ed919" x="269.476964" y="527.569725" style="fill: #0000ff; stroke: #0000ff"/>
<use href="#m07ba7ed919" x="272.380178" y="527.122197" style="fill: #0000ff; stroke: #0000ff"/>
<use href="#m07ba7ed919" x="275.28" y="527.122197" style="fill: #0000ff; stroke: #0000ff"/>
<use href="#m07ba7ed919" x="278.179822" y="523.417657" style="fill: #0000ff; stroke: #0000ff"/>
<use href="#m07ba7ed919" x="281.083036" y="522.050209" style="fill: #0000ff; stroke: #0000ff"/>
<use href="#m07ba7ed919" x="283.993061" y="519.166138" style="fill: #0000ff; stroke: #0000ff"/>
<use href="#m07ba7ed919" x="286.913371" y="518.594296" style="fill: #0000ff; stroke: #0000ff"/>
<use href="#m07ba7ed919" x="289.84753" y="517.276574" style="fill: #0000ff; stroke: #0000ff"/>
<use href="#m07ba7ed919" x="292.799215" y="512.527801" style="fill: #0000ff; stroke: #0000ff"/>
<use href="#m07ba7ed919" x="295.772257" y="511.955959" style="fill: #0000ff; stroke: #0000ff"/>
<use href="#m07ba7ed919" x="298.770677" y="511.657607" style="fill: #0000ff; stroke: #0000ff"/>
<use href="#m07ba7ed919" x="301.798726" y="507.381225" style="fill: #0000ff; stroke: #0000ff"/>
<use href="#m07ba7ed919" x="304.860935" y="506.983422" style="fill: #0000ff; stroke: #0000ff"/>
<use href="#m07ba7ed919" x="307.962171" y="506.088365" style="fill: #0000ff; stroke: #0000ff"/>
<use href="#m07ba7ed919" x="311.107699" y="497.112936" style="fill: #0000ff; stroke: #0000ff"/>
<use href="#m07ba7ed919" x="314.303258" y="496.739996" style="fill: #0000ff; stroke: #0000ff"/>
<use href="#m07ba7ed919" x="317.555156" y="494.328315" style="fill: #0000ff; stroke: #0000ff"/>
<use href="#m07ba7ed919" x="320.870373" y="493.333808" style="fill: #0000ff; stroke: #0000ff"/>
<use href="#m07ba7ed919" x="324.2567" y="491.59342" style="fill: #0000ff; stroke: #0000ff"/>
<use href="#m07ba7ed919" x="327.7229" y="490.151384" style="fill: #0000ff; stroke: #0000ff"/>
<use href="#m07ba7ed919" x="331.278912" y="489.18174" style="fill: #0000ff; stroke: #0000ff"/>
<use href="#m07ba7ed919" x="334.936117" y="487.366764" style="fill: #0000ff; stroke: #0000ff"/>
<use href="#m07ba7ed919" x="338.70766" y="487.317038" style="fill: #0000ff; stroke: #0000ff"/>
<use href="#m07ba7ed919" x="342.608889" y="484.55728" style="fill: #0000ff; stroke: #0000ff"/>
<use href="#m07ba7ed919" x="346.657916" y="482.170462" style="fill: #0000ff; stroke: #0000ff"/>
<use href="#m07ba7ed919" x="350.876383" y="475.979654" style="fill: #0000ff; stroke: #0000ff"/>
<use href="#m07ba7ed919" x="355.290502" y="475.034872" style="fill: #0000ff; stroke: #0000ff"/>
<use href="#m07ba7ed919" x="359.932511" y="473.319346" style="fill: #0000ff; stroke: #0000ff"/>
<use href="#m07ba7ed919" x="364.842768" y="472.822093" style="fill: #0000ff; stroke: #0000ff"/>
<use href="#m07ba7ed919" x="370.07284" y="470.261236" style="fill: #0000ff; stroke: #0000ff"/>
<use href="#m07ba7ed919" x="375.690235" y="468.570574" style="fill: #0000ff; stroke: #0000ff"/>
<use href="#m07ba7ed919" x="381.785957" y="466.03458" style="fill: #0000ff; stroke: #0000ff"/>
<use href="#m07ba7ed919" x="388.48719" y="465.76109" style="fill: #0000ff; stroke: #0000ff"/>
<use href="#m07ba7ed919" x="395.980033" y="463.001332" style="fill: #0000ff; stroke: #0000ff"/>
<use href="#m07ba7ed919" x="404.553753" y="461.609022" style="fill: #0000ff; stroke: #0000ff"/>
<use href="#m07ba7ed919" x="414.697203" y="440.475739" style="fill: #0000ff; stroke: #0000ff"/>
<use href="#m07ba7ed919" x="427.346002" y="439.605545" style="fill: #0000ff; stroke: #0000ff"/>
<use href="#m07ba7ed919" x="444.706419" y="420.411553" style="fill: #0000ff; stroke: #0000ff"/>
<use href="#m07ba7ed919" x="474.48" y="398.134587" style="fill: #0000ff; stroke: #0000ff"/>
</g>
</g>
<g id="line2d_36">
<path d="M 76.08 657.674246
L 105.853581 638.247724
L 123.213998 626.920483
L 135.862797 618.667455
L 146.006247 612.049106
L 154.579967 606.454966
L 162.07281 601.566072
L 168.774043 597.193684
L 174.869765 593.216377
L 180.48716 589.551166
L 185.717232 586.138674
L 190.627489 582.934853
L 195.269498 579.906057
L 199.683617 577.025955
L 203.902084 574.273509
L 207.951111 571.63162
L 211.85234 569.086165
L 215.623883 566.625326
L 219.281088 564.239091
L 222.8371 561.918881
L 226.3033 559.657272
L 229.689627 557.447778
L 233.004844 555.284681
L 236.256742 553.162898
L 239.452301 551.077875
L 242.597829 549.025496
L 245.699065 547.002017
L 248.761274 545.004001
L 251.789323 543.028275
L 254.787743 541.07188
L 257.760785 539.132044
L 260.71247 537.206143
L 263.646629 535.291677
L 266.566939 533.386247
L 269.476964 531.487528
L 272.380178 529.593253
L 275.28 527.701191
L 278.179822 525.809129
L 281.083036 523.914854
L 283.993061 522.016135
L 286.913371 520.110705
L 289.84753 518.19624
L 292.799215 516.270338
L 295.772257 514.330502
L 298.770677 512.374108
L 301.798726 510.398381
L 304.860935 508.400365
L 307.962171 506.376886
L 311.107699 504.324507
L 314.303258 502.239484
L 317.555156 500.117701
L 320.870373 497.954604
L 324.2567 495.74511
L 327.7229 493.483501
L 331.278912 491.163291
L 334.936117 488.777056
L 338.70766 486.316217
L 342.608889 483.770762
L 346.657916 481.128873
L 350.876383 478.376428
L 355.290502 475.496325
L 359.932511 472.467529
L 364.842768 469.263709
L 370.07284 465.851217
L 375.690235 462.186005
L 381.785957 458.208698
L 388.48719 453.83631
L 395.980033 448.947416
L 404.553753 443.353276
L 414.697203 436.734927
L 427.346002 428.4819
L 444.706419 417.154659
L 474.48 397.728136
" clip-path="url(#p3e3670ca8b)" style="fill: none; stroke: #ff0000; stroke-width: 1.5; stroke-linecap: round"/>
</g>
<g id="patch_33">
<path d="M 56.16 670.56
L 56.16 384.48
" style="fill: none; stroke: #cccccc; stroke-width: 0.8; stroke-linejoin: miter; stroke-linecap: square"/>
</g>
<g id="patch_34">
<path d="M 494.4 670.56
L 494.4 384.48
" style="fill: none; stroke: #cccccc; stroke-width: 0.8; stroke-linejoin: miter; stroke-linecap: square"/>
</g>
<g id="patch_35">
<path d="M 56.16 670.56
L 494.4 670.56
" style="fill: none; stroke: #cccccc; stroke-width: 0.8; stroke-linejoin: miter; stroke-linecap: square"/>
</g>
<g id="patch_36">
<path d="M 56.16 384.48
L 494.4 384.48
" style="fill: none; stroke: #cccccc; stroke-width: 0.8; stroke-linejoin: miter; stroke-linecap: square"/>
</g>
<g id="text_41">
<text style="font-weight: 700; font-size: 12px; font-family: 'Liberation Sans', sans-serif; text-anchor: middle; fill: #262626" x="275.28" y="378.48" transform="rotate(-0 275.28 378.48)">Q-Q Plot - Normality Check</text>
</g>
</g>
<g id="axes_4">
<g id="patch_37">
<path d="M 554.88 670.56
L 993.12 670.56
L 993.12 384.48
L 554.88 384.48
z
" style="fill: #ffffff"/>
</g>
<g id="matplotlib.axis_7">
<g id="xtick_16">
<g id="line2d_37">
<path d="M 574.564148 670.56
L 574.564148 384.48
" clip-path="url(#p57027fc377)" style="fill: none; stroke: #cccccc; stroke-opacity: 0.3; stroke-width: 0.8; stroke-linecap: round"/>
</g>
<g id="text_42">
<text style="font-size: 10px; font-family: 'Liberation Sans', sans-serif; text-anchor: middle; fill: #262626" x="574.564148" y="684.806875" transform="rotate(-0 574.564148 684.806875)">0</text>
</g>
</g>
<g id="xtick_17">
<g id="line2d_38">
<path d="M 629.763664 670.56
L 629.763664 384.48
" clip-path="url(#p57027fc377)" style="fill: none; stroke: #cccccc; stroke-opacity: 0.3; stroke-width: 0.8; stroke-linecap: round"/>
</g>
<g id="text_43">
<text style="font-size: 10px; font-family: 'Liberation Sans', sans-serif; text-anchor: middle; fill: #262626" x="629.763664" y="684.806875" transform="rotate(-0 629.763664 684.806875)">50</text>
</g>
</g>
<g id="xtick_18">
<g id="line2d_39">
<path d="M 684.96318 670.56
L 684.96318 384.48
" clip-path="url(#p57027fc377)" style="fill: none; stroke: #cccccc; stroke-opacity: 0.3; stroke-width: 0.8; stroke-linecap: round"/>
</g>
<g id="text_44">
<text style="font-size: 10px; font-family: 'Liberation Sans', sans-serif; text-anchor: middle; fill: #262626" x="684.96318" y="684.806875" transform="rotate(-0 684.96318 684.806875)">100</text>
</g>
</g>
<g id="xtick_19">
<g id="line2d_40">
<path d="M 740.162696 670.56
L 740.162696 384.48
" clip-path="url(#p57027fc377)" style="fill: none; stroke: #cccccc; stroke-opacity: 0.3; stroke-width: 0.8; stroke-linecap: round"/>
</g>
<g id="text_45">
<text style="font-size: 10px; font-family: 'Liberation Sans', sans-serif; text-anchor: middle; fill: #262626" x="740.162696" y="684.806875" transform="rotate(-0 740.162696 684.806875)">150</text>
</g>
</g>
<g id="xtick_20">
<g id="line2d_41">
<path d="M 795.362213 670.56
L 795.362213 384.48
" clip-path="url(#p57027fc377)" style="fill: none; stroke: #cccccc; stroke-opacity: 0.3; stroke-width: 0.8; stroke-linecap: round"/>
</g>
<g id="text_46">
<text style="font-size: 10px; font-family: 'Liberation Sans', sans-serif; text-anchor: middle; fill: #262626" x="795.362213" y="684.806875" transform="rotate(-0 795.362213 684.806875)">200</text>
</g>
</g>
<g id="xtick_21">
<g id="line2d_42">
<path d="M 850.561729 670.56
L 850.561729 384.48
" clip-path="url(#p57027fc377)" style="fill: none; stroke: #cccccc; stroke-opacity: 0.3; stroke-width: 0.8; stroke-linecap: round"/>
</g>
<g id="text_47">
<text style="font-size: 10px; font-family: 'Liberation Sans', sans-serif; text-anchor: middle; fill: #262626" x="850.561729" y="684.806875" transform="rotate(-0 850.561729 684.806875)">250</text>
</g>
</g>
<g id="xtick_22">
<g id="line2d_43">
<path d="M 905.761245 670.56
L 905.761245 384.48
" clip-path="url(#p57027fc377)" style="fill: none; stroke: #cccccc; stroke-opacity: 0.3; stroke-width: 0.8; stroke-linecap: round"/>
</g>
<g id="text_48">
<text style="font-size: 10px; font-family: 'Liberation Sans', sans-serif; text-anchor: middle; fill: #262626" x="905.761245" y="684.806875" transform="rotate(-0 905.761245 684.806875)">300</text>
</g>
</g>
<g id="xtick_23">
<g id="line2d_44">
<path d="M 960.960762 670.56
L 960.960762 384.48
" clip-path="url(#p57027fc377)" style="fill: none; stroke: #cccccc; stroke-opacity: 0.3; stroke-width: 0.8; stroke-linecap: round"/>
</g>
<g id="text_49">
<text style="font-size: 10px; font-family: 'Liberation Sans', sans-serif; text-anchor: middle; fill: #262626" x="960.960762" y="684.806875" transform="rotate(-0 960.960762 684.806875)">350</text>
</g>
</g>
<g id="text_50">
<text style="font-weight: 700; font-size: 11px; font-family: 'Liberation Sans', sans-serif; text-anchor: middle; fill: #262626" x="774" y="698.853437" transform="rotate(-0 774 698.853437)">Day Index</text>
</g>
</g>
<g id="matplotlib.axis_8">
<g id="ytick_18">
<g id="line2d_45">
<path d="M 554.88 623.145485
L 993.12 623.145485
" clip-path="url(#p57027fc377)" style="fill: none; stroke: #cccccc; stroke-opacity: 0.3; stroke-width: 0.8; stroke-linecap: round"/>
</g>
<g id="text_51">
<text style="font-size: 10px; font-family: 'Liberation Sans', sans-serif; text-anchor: end; fill: #262626" x="547.88" y="626.768922" transform="rotate(-0 547.88 626.768922)">−2000</text>
</g>
</g>
<g id="ytick_19">
<g id="line2d_46">
<path d="M 554.88 572.090768
L 993.12 572.090768
" clip-path="url(#p57027fc377)" style="fill: none; stroke: #cccccc; stroke-opacity: 0.3; stroke-width: 0.8; stroke-linecap: round"/>
</g>
<g id="text_52">
<text style="font-size: 10px; font-family: 'Liberation Sans', sans-serif; text-anchor: end; fill: #262626" x="547.88" y="575.714205" transform="rotate(-0 547.88 575.714205)">−1000</text>
</g>
</g>
<g id="ytick_20">
<g id="line2d_47">
<path d="M 554.88 521.036051
L 993.12 521.036051
" clip-path="url(#p57027fc377)" style="fill: none; stroke: #cccccc; stroke-opacity: 0.3; stroke-width: 0.8; stroke-linecap: round"/>
</g>
<g id="text_53">
<text style="font-size: 10px; font-family: 'Liberation Sans', sans-serif; text-anchor: end; fill: #262626" x="547.88" y="524.659488" transform="rotate(-0 547.88 524.659488)">0</text>
</g>
</g>
<g id="ytick_21">
<g id="line2d_48">
<path d="M 554.88 469.981334
L 993.12 469.981334
" clip-path="url(#p57027fc377)" style="fill: none; stroke: #cccccc; stroke-opacity: 0.3; stroke-width: 0.8; stroke-linecap: round"/>
</g>
<g id="text_54">
<text style="font-size: 10px; font-family: 'Liberation Sans', sans-serif; text-anchor: end; fill: #262626" x="547.88" y="473.604772" transform="rotate(-0 547.88 473.604772)">1000</text>
</g>
</g>
<g id="ytick_22">
<g id="line2d_49">
<path d="M 554.88 418.926617
L 993.12 418.926617
" clip-path="url(#p57027fc377)" style="fill: none; stroke: #cccccc; stroke-opacity: 0.3; stroke-width: 0.8; stroke-linecap: round"/>
</g>
<g id="text_55">
<text style="font-size: 10px; font-family: 'Liberation Sans', sans-serif; text-anchor: end; fill: #262626" x="547.88" y="422.550055" transform="rotate(-0 547.88 422.550055)">2000</text>
</g>
</g>
<g id="text_56">
<g transform="translate(-0.480 0.960)"><text style="font-weight: 700; font-size: 11px; font-family: 'Liberation Sans', sans-serif; text-anchor: middle; fill: #262626" x="513.513125" y="527.52" transform="rotate(-90 513.513125 527.52)">Residuals (kWh)</text></g>
</g>
</g>
<g id="PathCollection_2">
<defs>
<path id="mde8c0dd62b" d="M 0 3.162278
C 0.838646 3.162278 1.643056 2.82908 2.236068 2.236068
C 2.82908 1.643056 3.162278 0.838646 3.162278 0
C 3.162278 -0.838646 2.82908 -1.643056 2.236068 -2.236068
C 1.643056 -2.82908 0.838646 -3.162278 0 -3.162278
C -0.838646 -3.162278 -1.643056 -2.82908 -2.236068 -2.236068
C -2.82908 -1.643056 -3.162278 -0.838646 -3.162278 0
C -3.162278 0.838646 -2.82908 1.643056 -2.236068 2.236068
C -1.643056 2.82908 -0.838646 3.162278 0 3.162278
z
" style="stroke: #000000; stroke-opacity: 0.5"/>
</defs>
<g clip-path="url(#p57027fc377)">
<use href="#mde8c0dd62b" x="848.353748" y="657.556364" style="fill: #1f77b4; fill-opacity: 0.5; stroke: #000000; stroke-opacity: 0.5"/>
<use href="#mde8c0dd62b" x="955.772007" y="653.676205" style="fill: #1f77b4; fill-opacity: 0.5; stroke: #000000; stroke-opacity: 0.5"/>
<use href="#mde8c0dd62b" x="960.298368" y="651.50638" style="fill: #1f77b4; fill-opacity: 0.5; stroke: #000000; stroke-opacity: 0.5"/>
<use href="#mde8c0dd62b" x="591.565599" y="648.366515" style="fill: #1f77b4; fill-opacity: 0.5; stroke: #000000; stroke-opacity: 0.5"/>
<use href="#mde8c0dd62b" x="963.49994" y="638.487427" style="fill: #1f77b4; fill-opacity: 0.5; stroke: #000000; stroke-opacity: 0.5"/>
<use href="#mde8c0dd62b" x="711.679746" y="620.311948" style="fill: #1f77b4; fill-opacity: 0.5; stroke: #000000; stroke-opacity: 0.5"/>
<use href="#mde8c0dd62b" x="607.904655" y="619.290853" style="fill: #1f77b4; fill-opacity: 0.5; stroke: #000000; stroke-opacity: 0.5"/>
<use href="#mde8c0dd62b" x="636.718803" y="612.092138" style="fill: #1f77b4; fill-opacity: 0.5; stroke: #000000; stroke-opacity: 0.5"/>
<use href="#mde8c0dd62b" x="599.293531" y="601.549339" style="fill: #1f77b4; fill-opacity: 0.5; stroke: #000000; stroke-opacity: 0.5"/>
<use href="#mde8c0dd62b" x="790.283857" y="598.154201" style="fill: #1f77b4; fill-opacity: 0.5; stroke: #000000; stroke-opacity: 0.5"/>
<use href="#mde8c0dd62b" x="654.493047" y="592.895565" style="fill: #1f77b4; fill-opacity: 0.5; stroke: #000000; stroke-opacity: 0.5"/>
<use href="#mde8c0dd62b" x="910.839601" y="587.636929" style="fill: #1f77b4; fill-opacity: 0.5; stroke: #000000; stroke-opacity: 0.5"/>
<use href="#mde8c0dd62b" x="854.094498" y="577.987588" style="fill: #1f77b4; fill-opacity: 0.5; stroke: #000000; stroke-opacity: 0.5"/>
<use href="#mde8c0dd62b" x="887.214208" y="577.119657" style="fill: #1f77b4; fill-opacity: 0.5; stroke: #000000; stroke-opacity: 0.5"/>
<use href="#mde8c0dd62b" x="706.270193" y="575.639071" style="fill: #1f77b4; fill-opacity: 0.5; stroke: #000000; stroke-opacity: 0.5"/>
<use href="#mde8c0dd62b" x="831.904293" y="571.707857" style="fill: #1f77b4; fill-opacity: 0.5; stroke: #000000; stroke-opacity: 0.5"/>
<use href="#mde8c0dd62b" x="940.536941" y="571.350474" style="fill: #1f77b4; fill-opacity: 0.5; stroke: #000000; stroke-opacity: 0.5"/>
<use href="#mde8c0dd62b" x="584.941657" y="567.368206" style="fill: #1f77b4; fill-opacity: 0.5; stroke: #000000; stroke-opacity: 0.5"/>
<use href="#mde8c0dd62b" x="686.06717" y="567.13846" style="fill: #1f77b4; fill-opacity: 0.5; stroke: #000000; stroke-opacity: 0.5"/>
<use href="#mde8c0dd62b" x="725.921221" y="561.139531" style="fill: #1f77b4; fill-opacity: 0.5; stroke: #000000; stroke-opacity: 0.5"/>
<use href="#mde8c0dd62b" x="933.692201" y="557.335955" style="fill: #1f77b4; fill-opacity: 0.5; stroke: #000000; stroke-opacity: 0.5"/>
<use href="#mde8c0dd62b" x="798.894982" y="552.000737" style="fill: #1f77b4; fill-opacity: 0.5; stroke: #000000; stroke-opacity: 0.5"/>
<use href="#mde8c0dd62b" x="957.75919" y="550.111712" style="fill: #1f77b4; fill-opacity: 0.5; stroke: #000000; stroke-opacity: 0.5"/>
<use href="#mde8c0dd62b" x="637.712394" y="547.71214" style="fill: #1f77b4; fill-opacity: 0.5; stroke: #000000; stroke-opacity: 0.5"/>
<use href="#mde8c0dd62b" x="625.6789" y="543.831982" style="fill: #1f77b4; fill-opacity: 0.5; stroke: #000000; stroke-opacity: 0.5"/>
<use href="#mde8c0dd62b" x="956.765599" y="542.376923" style="fill: #1f77b4; fill-opacity: 0.5; stroke: #000000; stroke-opacity: 0.5"/>
<use href="#mde8c0dd62b" x="621.262938" y="538.496764" style="fill: #1f77b4; fill-opacity: 0.5; stroke: #000000; stroke-opacity: 0.5"/>
<use href="#mde8c0dd62b" x="902.559674" y="538.496764" style="fill: #1f77b4; fill-opacity: 0.5; stroke: #000000; stroke-opacity: 0.5"/>
<use href="#mde8c0dd62b" x="916.028356" y="538.496764" style="fill: #1f77b4; fill-opacity: 0.5; stroke: #000000; stroke-opacity: 0.5"/>
<use href="#mde8c0dd62b" x="644.336336" y="537.577779" style="fill: #1f77b4; fill-opacity: 0.5; stroke: #000000; stroke-opacity: 0.5"/>
<use href="#mde8c0dd62b" x="971.227872" y="535.688755" style="fill: #1f77b4; fill-opacity: 0.5; stroke: #000000; stroke-opacity: 0.5"/>
<use href="#mde8c0dd62b" x="786.861487" y="534.514496" style="fill: #1f77b4; fill-opacity: 0.5; stroke: #000000; stroke-opacity: 0.5"/>
<use href="#mde8c0dd62b" x="659.681802" y="534.259223" style="fill: #1f77b4; fill-opacity: 0.5; stroke: #000000; stroke-opacity: 0.5"/>
<use href="#mde8c0dd62b" x="842.171403" y="533.774203" style="fill: #1f77b4; fill-opacity: 0.5; stroke: #000000; stroke-opacity: 0.5"/>
<use href="#mde8c0dd62b" x="833.008283" y="530.379064" style="fill: #1f77b4; fill-opacity: 0.5; stroke: #000000; stroke-opacity: 0.5"/>
<use href="#mde8c0dd62b" x="574.784946" y="529.919572" style="fill: #1f77b4; fill-opacity: 0.5; stroke: #000000; stroke-opacity: 0.5"/>
<use href="#mde8c0dd62b" x="821.857981" y="529.919572" style="fill: #1f77b4; fill-opacity: 0.5; stroke: #000000; stroke-opacity: 0.5"/>
<use href="#mde8c0dd62b" x="937.997763" y="526.115995" style="fill: #1f77b4; fill-opacity: 0.5; stroke: #000000; stroke-opacity: 0.5"/>
<use href="#mde8c0dd62b" x="757.164148" y="524.711991" style="fill: #1f77b4; fill-opacity: 0.5; stroke: #000000; stroke-opacity: 0.5"/>
<use href="#mde8c0dd62b" x="776.815175" y="521.750817" style="fill: #1f77b4; fill-opacity: 0.5; stroke: #000000; stroke-opacity: 0.5"/>
<use href="#mde8c0dd62b" x="897.150121" y="521.163688" style="fill: #1f77b4; fill-opacity: 0.5; stroke: #000000; stroke-opacity: 0.5"/>
<use href="#mde8c0dd62b" x="635.725212" y="519.810738" style="fill: #1f77b4; fill-opacity: 0.5; stroke: #000000; stroke-opacity: 0.5"/>
<use href="#mde8c0dd62b" x="617.950967" y="514.935012" style="fill: #1f77b4; fill-opacity: 0.5; stroke: #000000; stroke-opacity: 0.5"/>
<use href="#mde8c0dd62b" x="878.603083" y="514.347883" style="fill: #1f77b4; fill-opacity: 0.5; stroke: #000000; stroke-opacity: 0.5"/>
<use href="#mde8c0dd62b" x="678.339238" y="514.041555" style="fill: #1f77b4; fill-opacity: 0.5; stroke: #000000; stroke-opacity: 0.5"/>
<use href="#mde8c0dd62b" x="674.144075" y="509.650849" style="fill: #1f77b4; fill-opacity: 0.5; stroke: #000000; stroke-opacity: 0.5"/>
<use href="#mde8c0dd62b" x="864.14081" y="509.242411" style="fill: #1f77b4; fill-opacity: 0.5; stroke: #000000; stroke-opacity: 0.5"/>
<use href="#mde8c0dd62b" x="791.16705" y="508.323426" style="fill: #1f77b4; fill-opacity: 0.5; stroke: #000000; stroke-opacity: 0.5"/>
<use href="#mde8c0dd62b" x="973.546252" y="499.10805" style="fill: #1f77b4; fill-opacity: 0.5; stroke: #000000; stroke-opacity: 0.5"/>
<use href="#mde8c0dd62b" x="952.460036" y="498.72514" style="fill: #1f77b4; fill-opacity: 0.5; stroke: #000000; stroke-opacity: 0.5"/>
<use href="#mde8c0dd62b" x="624.685308" y="496.248986" style="fill: #1f77b4; fill-opacity: 0.5; stroke: #000000; stroke-opacity: 0.5"/>
<use href="#mde8c0dd62b" x="699.977449" y="495.227892" style="fill: #1f77b4; fill-opacity: 0.5; stroke: #000000; stroke-opacity: 0.5"/>
<use href="#mde8c0dd62b" x="817.662817" y="493.440977" style="fill: #1f77b4; fill-opacity: 0.5; stroke: #000000; stroke-opacity: 0.5"/>
<use href="#mde8c0dd62b" x="948.044075" y="491.96039" style="fill: #1f77b4; fill-opacity: 0.5; stroke: #000000; stroke-opacity: 0.5"/>
<use href="#mde8c0dd62b" x="677.456046" y="490.964823" style="fill: #1f77b4; fill-opacity: 0.5; stroke: #000000; stroke-opacity: 0.5"/>
<use href="#mde8c0dd62b" x="580.525695" y="489.101326" style="fill: #1f77b4; fill-opacity: 0.5; stroke: #000000; stroke-opacity: 0.5"/>
<use href="#mde8c0dd62b" x="946.608888" y="489.050271" style="fill: #1f77b4; fill-opacity: 0.5; stroke: #000000; stroke-opacity: 0.5"/>
<use href="#mde8c0dd62b" x="578.096917" y="486.216734" style="fill: #1f77b4; fill-opacity: 0.5; stroke: #000000; stroke-opacity: 0.5"/>
<use href="#mde8c0dd62b" x="836.320254" y="483.766108" style="fill: #1f77b4; fill-opacity: 0.5; stroke: #000000; stroke-opacity: 0.5"/>
<use href="#mde8c0dd62b" x="713.998126" y="477.409795" style="fill: #1f77b4; fill-opacity: 0.5; stroke: #000000; stroke-opacity: 0.5"/>
<use href="#mde8c0dd62b" x="867.56318" y="476.439756" style="fill: #1f77b4; fill-opacity: 0.5; stroke: #000000; stroke-opacity: 0.5"/>
<use href="#mde8c0dd62b" x="661.116989" y="474.678368" style="fill: #1f77b4; fill-opacity: 0.5; stroke: #000000; stroke-opacity: 0.5"/>
<use href="#mde8c0dd62b" x="665.53295" y="474.167821" style="fill: #1f77b4; fill-opacity: 0.5; stroke: #000000; stroke-opacity: 0.5"/>
<use href="#mde8c0dd62b" x="655.376239" y="471.538503" style="fill: #1f77b4; fill-opacity: 0.5; stroke: #000000; stroke-opacity: 0.5"/>
<use href="#mde8c0dd62b" x="769.197642" y="469.802643" style="fill: #1f77b4; fill-opacity: 0.5; stroke: #000000; stroke-opacity: 0.5"/>
<use href="#mde8c0dd62b" x="742.701874" y="467.198852" style="fill: #1f77b4; fill-opacity: 0.5; stroke: #000000; stroke-opacity: 0.5"/>
<use href="#mde8c0dd62b" x="695.23029" y="466.918051" style="fill: #1f77b4; fill-opacity: 0.5; stroke: #000000; stroke-opacity: 0.5"/>
<use href="#mde8c0dd62b" x="787.965478" y="464.084514" style="fill: #1f77b4; fill-opacity: 0.5; stroke: #000000; stroke-opacity: 0.5"/>
<use href="#mde8c0dd62b" x="611.216626" y="462.654982" style="fill: #1f77b4; fill-opacity: 0.5; stroke: #000000; stroke-opacity: 0.5"/>
<use href="#mde8c0dd62b" x="602.715901" y="440.956728" style="fill: #1f77b4; fill-opacity: 0.5; stroke: #000000; stroke-opacity: 0.5"/>
<use href="#mde8c0dd62b" x="658.68821" y="440.06327" style="fill: #1f77b4; fill-opacity: 0.5; stroke: #000000; stroke-opacity: 0.5"/>
<use href="#mde8c0dd62b" x="694.347098" y="420.356149" style="fill: #1f77b4; fill-opacity: 0.5; stroke: #000000; stroke-opacity: 0.5"/>
<use href="#mde8c0dd62b" x="905.982044" y="397.483636" style="fill: #1f77b4; fill-opacity: 0.5; stroke: #000000; stroke-opacity: 0.5"/>
</g>
</g>
<g id="line2d_50">
<path d="M 554.88 521.036051
L 993.12 521.036051
" clip-path="url(#p57027fc377)" style="fill: none; stroke-dasharray: 7.4,3.2; stroke-dashoffset: 0; stroke: #ff0000; stroke-width: 2"/>
</g>
<g id="patch_38">
<path d="M 554.88 670.56
L 554.88 384.48
" style="fill: none; stroke: #cccccc; stroke-width: 0.8; stroke-linejoin: miter; stroke-linecap: square"/>
</g>
<g id="patch_39">
<path d="M 993.12 670.56
L 993.12 384.48
" style="fill: none; stroke: #cccccc; stroke-width: 0.8; stroke-linejoin: miter; stroke-linecap: square"/>
</g>
<g id="patch_40">
<path d="M 554.88 670.56
L 993.12 670.56
" style="fill: none; stroke: #cccccc; stroke-width: 0.8; stroke-linejoin: miter; stroke-linecap: square"/>
</g>
<g id="patch_41">
<path d="M 554.88 384.48
L 993.12 384.48
" style="fill: none; stroke: #cccccc; stroke-width: 0.8; stroke-linejoin: miter; stroke-linecap: square"/>
</g>
<g id="text_57">
<text style="font-weight: 700; font-size: 12px; font-family: 'Liberation Sans', sans-serif; text-anchor: middle; fill: #262626" x="774" y="378.48" transform="rotate(-0 774 378.48)">Residuals Over Time</text>
</g>
</g>
<g id="text_58">
<text style="font-weight: 700; font-size: 14px; font-family: 'Liberation Sans', sans-serif; text-anchor: middle; fill: #262626" x="500.16" y="17.574585" transform="rotate(-0 500.16 17.574585)">Residual Analysis - Random Forest</text>
</g>
</g>
<defs>
<clipPath id="p3004b6a9ac">
<rect x="56.16" y="41.76" width="438.24" height="286.08"/>
</clipPath>
<clipPath id="p6573715b13">
<rect x="554.88" y="41.76" width="438.24" height="286.08"/>
</clipPath>
<clipPath id="p3e3670ca8b">
<rect x="56.16" y="384.48" width="438.24" height="286.08"/>
</clipPath>
<clipPath id="p57027fc377">
<rect x="554.88" y="384.48" width="438.24" height="286.08"/>
</clipPath>
</defs>
</svg>

</body></html>
